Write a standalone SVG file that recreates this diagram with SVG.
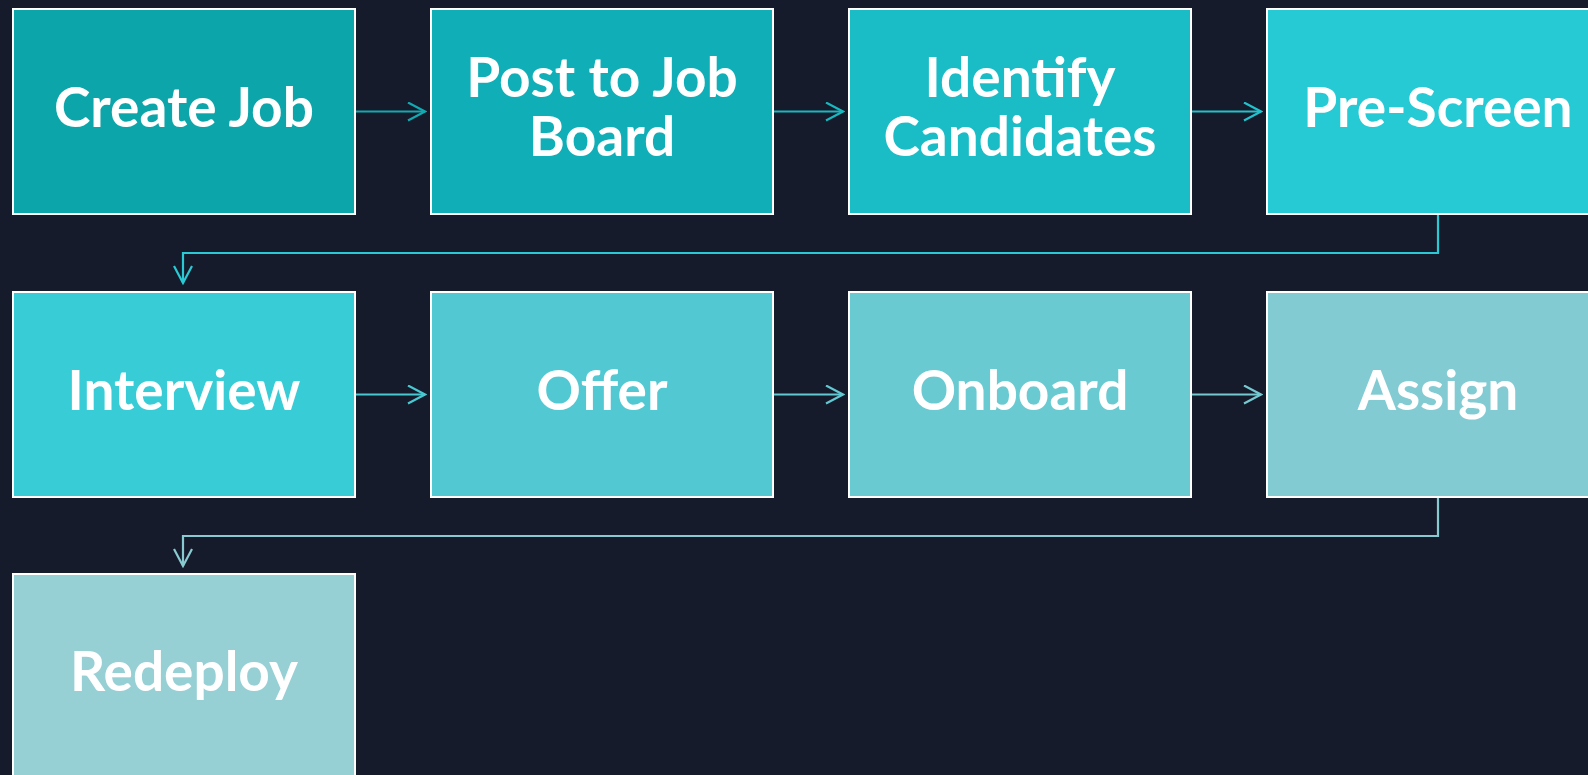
<svg xmlns="http://www.w3.org/2000/svg" width="1588" height="775" viewBox="0 0 1588 775">
<defs>
<style>
.box{stroke:#ffffff;stroke-width:2}
.lbl{font-family:Lato,"Noto Sans",sans-serif;font-weight:700;font-size:55px;fill:#ffffff;text-anchor:middle}
.con{fill:none;stroke-width:2.2}
</style>
<marker id="ah" viewBox="0 0 20 20" refX="18" refY="10" markerWidth="20" markerHeight="20" markerUnits="userSpaceOnUse" orient="auto">
<path d="M1,1 L18,10 L1,19" fill="none" stroke="context-stroke" stroke-width="2.2"/>
</marker>
</defs>
<rect width="1588" height="775" fill="#161b2b"/>
<g id="connectors">
<path class="con" d="M355,111.5 H425" stroke="#12a9b1" marker-end="url(#ah)"/>
<path class="con" d="M773,111.5 H843" stroke="#19b7c0" marker-end="url(#ah)"/>
<path class="con" d="M1191,111.5 H1261" stroke="#22c2cc" marker-end="url(#ah)"/>
<path class="con" d="M1438,214 V253 H183 V283" stroke="#2ac9d4" marker-end="url(#ah)"/>
<path class="con" d="M355,394.5 H425" stroke="#4ac8d1" marker-end="url(#ah)"/>
<path class="con" d="M773,394.5 H843" stroke="#62c8d1" marker-end="url(#ah)"/>
<path class="con" d="M1191,394.5 H1261" stroke="#76c9d1" marker-end="url(#ah)"/>
<path class="con" d="M1438,497 V536 H183 V566" stroke="#88cad0" marker-end="url(#ah)"/>
</g>
<g id="n1"><rect class="box" x="13" y="9" width="342" height="205" fill="#0ca5aa"/><text class="lbl" x="184" y="127">Create Job</text></g>
<g id="n2"><rect class="box" x="431" y="9" width="342" height="205" fill="#10afb8"/><text class="lbl" x="602" y="97">Post to Job</text><text class="lbl" x="602" y="156">Board</text></g>
<g id="n3"><rect class="box" x="849" y="9" width="342" height="205" fill="#1abcc6"/><text class="lbl" x="1020" y="97">Identify</text><text class="lbl" x="1020" y="156">Candidates</text></g>
<g id="n4"><rect class="box" x="1267" y="9" width="342" height="205" fill="#25cad4"/><text class="lbl" x="1438" y="127">Pre-Screen</text></g>
<g id="n5"><rect class="box" x="13" y="292" width="342" height="205" fill="#38ccd6"/><text class="lbl" x="184" y="410">Interview</text></g>
<g id="n6"><rect class="box" x="431" y="292" width="342" height="205" fill="#52c9d2"/><text class="lbl" x="602" y="410">Offer</text></g>
<g id="n7"><rect class="box" x="849" y="292" width="342" height="205" fill="#6acad2"/><text class="lbl" x="1020" y="410">Onboard</text></g>
<g id="n8"><rect class="box" x="1267" y="292" width="342" height="205" fill="#82cbd3"/><text class="lbl" x="1438" y="410">Assign</text></g>
<g id="n9"><rect class="box" x="13" y="574" width="342" height="205" fill="#96cfd4"/><text class="lbl" x="184" y="691">Redeploy</text></g>
</svg>
